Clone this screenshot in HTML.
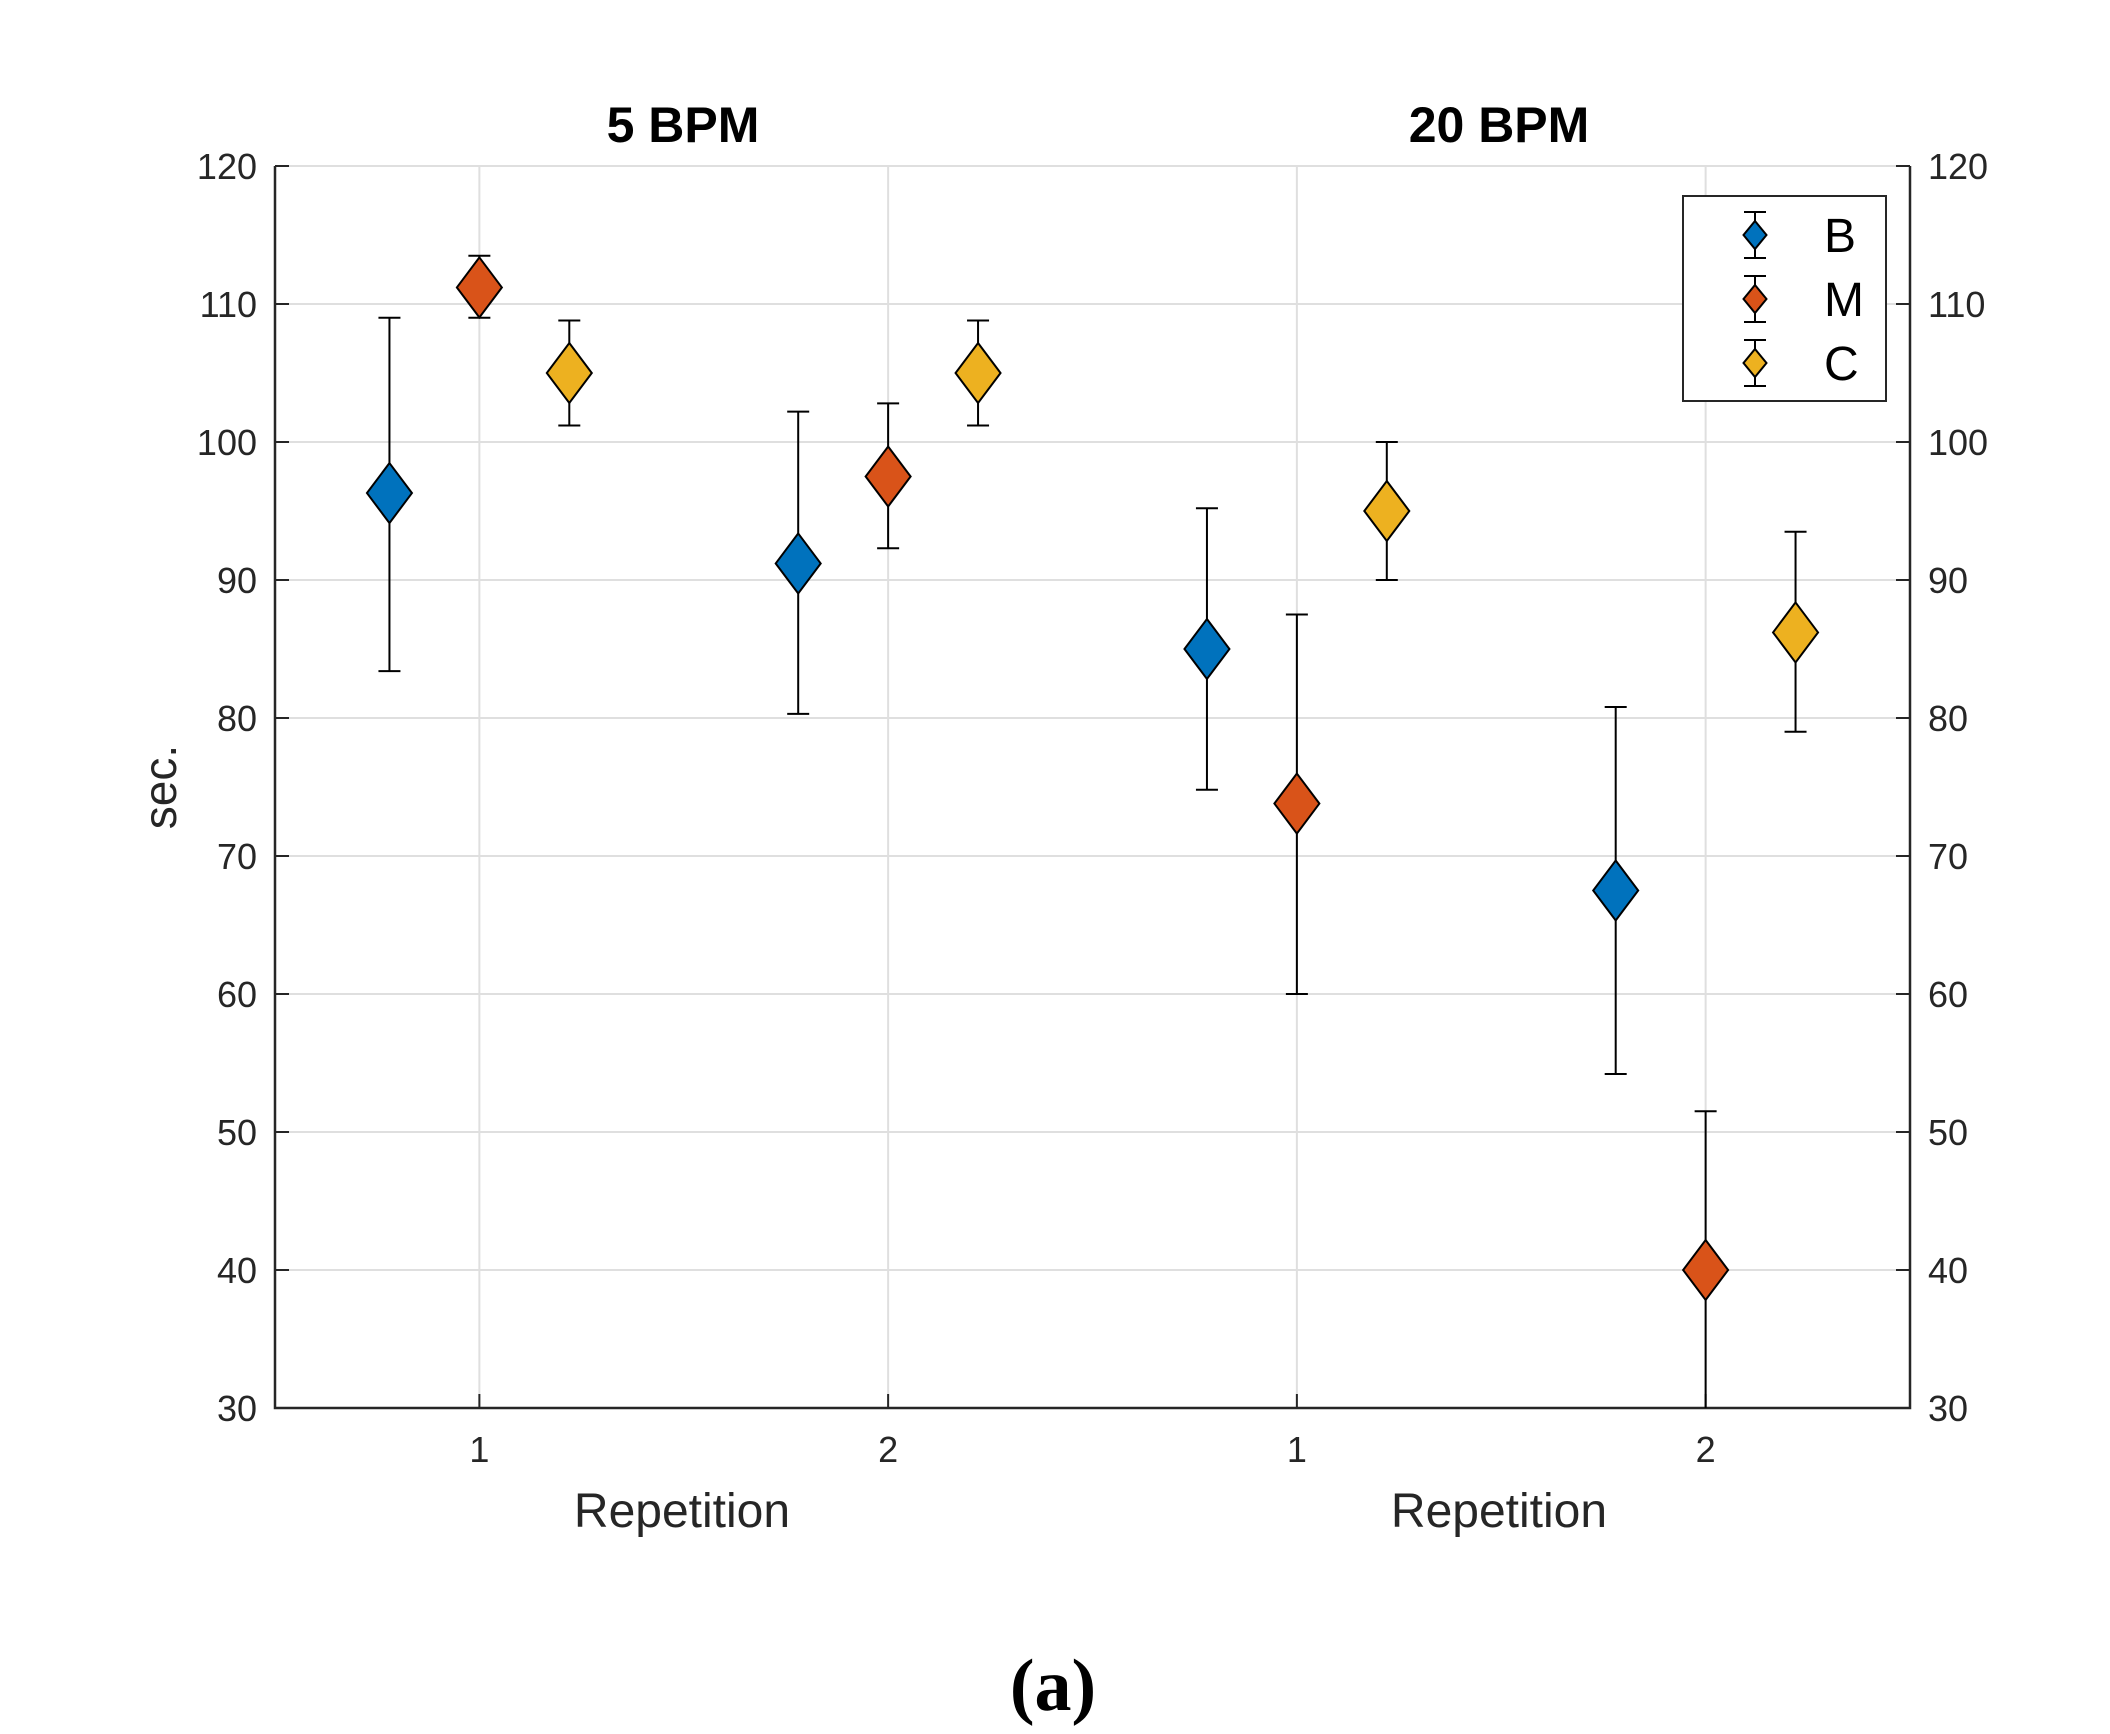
<!DOCTYPE html>
<html><head><meta charset="utf-8"><style>
html,body{margin:0;padding:0;background:#fff;}
svg{display:block;font-family:"Liberation Sans",Arial,sans-serif;}
</style></head><body>
<svg id="chart" width="2110" height="1734" viewBox="0 0 2110 1734" xmlns="http://www.w3.org/2000/svg">
<rect width="2110" height="1734" fill="#fff"/>
<g id="grid"></g>
<g id="axes"></g>
<g id="marks"></g>
<text x="683" y="142" text-anchor="middle" font-size="50" font-weight="bold" fill="#000">5 BPM</text>
<text x="1499" y="142" text-anchor="middle" font-size="50" font-weight="bold" fill="#000">20 BPM</text>
<text x="682" y="1527" text-anchor="middle" font-size="48" fill="#262626">Repetition</text>
<text x="1499" y="1527" text-anchor="middle" font-size="48" fill="#262626">Repetition</text>
<text transform="translate(176,787) rotate(-90)" text-anchor="middle" font-size="46" fill="#262626">sec.</text>
<text x="1053" y="1710" text-anchor="middle" font-size="74" font-weight="bold" font-family="Liberation Serif,serif" fill="#000">(a)</text>
<g id="legend"></g>
</svg>
<script>
const categories = [1, 2, 3, 4];
const categoryLabels = ["1", "2", "1", "2"];
const yTicks = [30, 40, 50, 60, 70, 80, 90, 100, 110, 120];
const seriesNames = ["B", "M", "C"];
const seriesOffsets = [-0.22, 0, 0.22];
const meanB = [96.3, 91.2, 85.0, 67.5];
const lowB = [83.4, 80.3, 74.8, 54.2];
const highB = [109.0, 102.2, 95.2, 80.8];
const meanM = [111.2, 97.5, 73.8, 40.0];
const lowM = [109.0, 92.3, 60.0, 28.0];
const highM = [113.5, 102.8, 87.5, 51.5];
const meanC = [105.0, 105.0, 95.0, 86.2];
const lowC = [101.2, 101.2, 90.0, 79.0];
const highC = [108.8, 108.8, 100.0, 93.5];

const NS = "http://www.w3.org/2000/svg";
const L = 275, R = 1910, T = 166, B = 1408;
const xMin = 0.5, xMax = 4.5, yMin = 30, yMax = 120;
const xs = v => L + (v - xMin) / (xMax - xMin) * (R - L);
const ys = v => B - (v - yMin) / (yMax - yMin) * (B - T);
const colors = ["#0072BD", "#D95319", "#EDB120"];
function el(tag, attrs, parent) {
  const e = document.createElementNS(NS, tag);
  for (const k in attrs) e.setAttribute(k, attrs[k]);
  parent.appendChild(e);
  return e;
}
const grid = document.getElementById("grid");
const axes = document.getElementById("axes");
const marks = document.getElementById("marks");
const legend = document.getElementById("legend");

yTicks.forEach(t => {
  const g = el("line", {x1: L, x2: R, y1: ys(t), y2: ys(t), stroke: "#dfdfdf", "stroke-width": 2}, grid);
  
  
  const tl = el("line", {x1: L, x2: L + 14, y1: ys(t), y2: ys(t), stroke: "#262626", "stroke-width": 2}, axes);
  
  
  const tr = el("line", {x1: R - 14, x2: R, y1: ys(t), y2: ys(t), stroke: "#262626", "stroke-width": 2}, axes);
  
  
  const a = el("text", {x: L - 18, y: ys(t) + 13, "text-anchor": "end", "font-size": 36, fill: "#262626"}, axes);
  a.textContent = t;
  
  
  const b = el("text", {x: R + 18, y: ys(t) + 13, "text-anchor": "start", "font-size": 36, fill: "#262626"}, axes);
  b.textContent = t;
  
  
});
categories.forEach((c, i) => {
  const g = el("line", {x1: xs(c), x2: xs(c), y1: T, y2: B, stroke: "#dfdfdf", "stroke-width": 2}, grid);
  
  
  const tk = el("line", {x1: xs(c), x2: xs(c), y1: B, y2: B - 14, stroke: "#262626", "stroke-width": 2}, axes);
  
  
  const tx = el("text", {x: xs(c), y: B + 54, "text-anchor": "middle", "font-size": 36, fill: "#262626"}, axes);
  tx.textContent = categoryLabels[i];
  
  
});
const frame = el("path", {d: `M${L},${T} L${L},${B} L${R},${B} L${R},${T}`, fill: "none", stroke: "#262626", "stroke-width": 2.5}, axes);



const means = [meanB, meanM, meanC], lows = [lowB, lowM, lowC], highs = [highB, highM, highC];
function diamond(cx, cy, hw, hh, fill, parent) {
  return el("polygon", {points: `${cx},${cy - hh} ${cx + hw},${cy} ${cx},${cy + hh} ${cx - hw},${cy}`, fill: fill, stroke: "#000", "stroke-width": 2}, parent);
}
means.forEach((arr, s) => {
  arr.forEach((m, i) => {
    const x = xs(categories[i] + seriesOffsets[s]);
    const yh = ys(highs[s][i]);
    const ylRaw = lows[s][i];
    const yl = ys(Math.max(ylRaw, yMin));
    const g = el("g", {}, marks);
    
    
    el("line", {x1: x, x2: x, y1: yh, y2: yl, stroke: "#000", "stroke-width": 2}, g);
    el("line", {x1: x - 11, x2: x + 11, y1: yh, y2: yh, stroke: "#000", "stroke-width": 2}, g);
    if (ylRaw >= yMin) el("line", {x1: x - 11, x2: x + 11, y1: yl, y2: yl, stroke: "#000", "stroke-width": 2}, g);
    diamond(x, ys(m), 22.5, 30, colors[s], g);
  });
});

const box = el("rect", {x: 1683, y: 196, width: 203, height: 205, fill: "#fff", stroke: "#262626", "stroke-width": 2}, legend);


const rowY = [235, 299, 363];
seriesNames.forEach((n, s) => {
  const g = el("g", {}, legend);
  
  
  const cx = 1755, cy = rowY[s];
  el("line", {x1: cx, x2: cx, y1: cy - 23, y2: cy + 23, stroke: "#000", "stroke-width": 2}, g);
  el("line", {x1: cx - 11, x2: cx + 11, y1: cy - 23, y2: cy - 23, stroke: "#000", "stroke-width": 2}, g);
  el("line", {x1: cx - 11, x2: cx + 11, y1: cy + 23, y2: cy + 23, stroke: "#000", "stroke-width": 2}, g);
  diamond(cx, cy, 11.5, 14, colors[s], g);
  const t = el("text", {x: 1824, y: cy + 17, "font-size": 48, fill: "#000"}, g);
  t.textContent = n;
});
</script>
</body></html>
